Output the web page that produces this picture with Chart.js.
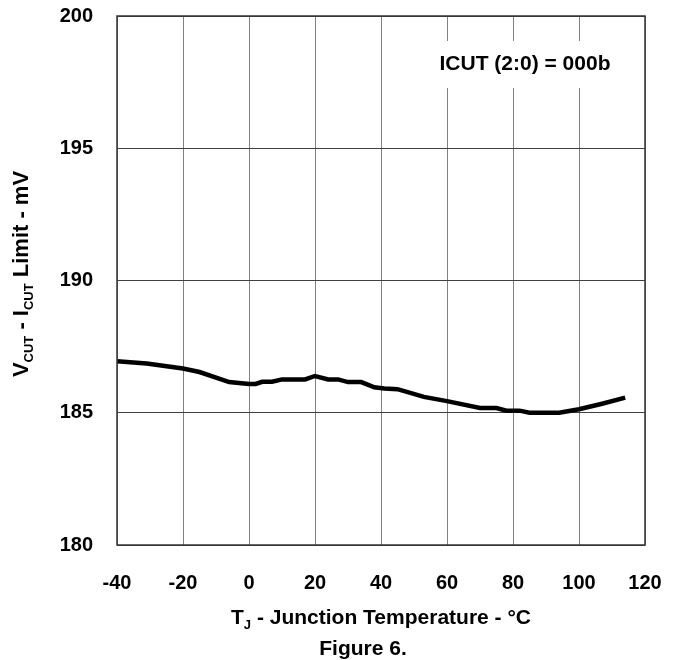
<!DOCTYPE html>
<html>
<head>
<meta charset="utf-8">
<script src="https://cdn.jsdelivr.net/npm/chart.js@4.4.1/dist/chart.umd.min.js"></script>
<style>
  html, body { margin: 0; padding: 0; background: #fff; }
  #wrap { width: 677px; height: 660px; position: relative; }
</style>
</head>
<body>
<div id="wrap"><canvas id="c" width="677" height="660"></canvas></div>
<script>
// ---- data ----
const temperatures = [-40, -31, -20, -15, -6, 0, 2, 4, 7, 10, 17, 20, 24, 27, 30, 34, 38, 41, 45, 53, 60, 70, 75, 78, 82, 85, 94, 100, 107, 114];
const vcutLimit = [186.95, 186.86, 186.67, 186.54, 186.16, 186.09, 186.09, 186.17, 186.17, 186.26, 186.26, 186.39, 186.26, 186.26, 186.16, 186.16, 185.96, 185.92, 185.89, 185.6, 185.44, 185.18, 185.18, 185.08, 185.08, 185.0, 185.0, 185.13, 185.34, 185.57];
const xTicks = [-40, -20, 0, 20, 40, 60, 80, 100, 120];
const yTicks = [180, 185, 190, 195, 200];
const annotationText = "ICUT (2:0) = 000b";
const figureCaption = "Figure 6.";

const FONT = '"Liberation Sans", Arial, Helvetica, sans-serif';

function drawSegments(ctx, segs, cx, baseY) {
  let total = 0;
  segs.forEach(s => { ctx.font = 'bold ' + s.size + 'px ' + FONT; s.w = ctx.measureText(s.t).width; total += s.w; });
  let x = cx - total / 2;
  ctx.textAlign = 'left';
  ctx.textBaseline = 'alphabetic';
  segs.forEach(s => {
    ctx.font = 'bold ' + s.size + 'px ' + FONT;
    ctx.fillText(s.t, x, baseY + s.dy);
    x += s.w;
  });
}

const textPlugin = {
  id: 'texts',
  afterDraw(chart) {
    const ctx = chart.ctx;
    const a = chart.chartArea;
    ctx.save();
    // annotation box
    ctx.fillStyle = '#fff';
    ctx.fillRect(422, 41, 212, 47);
    ctx.fillStyle = '#000';
    ctx.font = 'bold 21px ' + FONT;
    ctx.textAlign = 'center';
    ctx.textBaseline = 'middle';
    ctx.fillText(annotationText, 525, 64);

    // x axis title
    const xc = (a.left + a.right) / 2;
    drawSegments(ctx, [
      {t: 'T', size: 21, dy: 0},
      {t: 'J', size: 13, dy: 5},
      {t: ' - Junction Temperature - \u00B0C', size: 21, dy: 0}
    ], xc, 624);

    // caption
    drawSegments(ctx, [{t: figureCaption, size: 21, dy: 0}], 363, 655);

    // y axis title (rotated)
    ctx.save();
    ctx.translate(28, 274);
    ctx.rotate(-Math.PI / 2);
    drawSegments(ctx, [
      {t: 'V', size: 22, dy: 0},
      {t: 'CUT', size: 13, dy: 5},
      {t: ' - I', size: 22, dy: 0},
      {t: 'CUT', size: 13, dy: 5},
      {t: ' Limit - mV', size: 22, dy: 0}
    ], 0, 0);
    ctx.restore();

    // plot border
    ctx.strokeStyle = '#333';
    ctx.lineWidth = 1.5;
    ctx.strokeRect(a.left, a.top, a.right - a.left, a.bottom - a.top);
    ctx.restore();
  }
};

const points = temperatures.map((t, i) => ({x: t, y: vcutLimit[i]}));

new Chart(document.getElementById('c'), {
  type: 'line',
  data: {
    datasets: [{
      data: points,
      borderColor: '#000',
      borderWidth: 4.5,
      pointRadius: 0,
      tension: 0,
      fill: false
    }]
  },
  options: {
    responsive: false,
    animation: false,
    layout: { padding: { left: 0, right: 32, top: 16, bottom: 0 } },
    plugins: { legend: { display: false }, tooltip: { enabled: false } },
    scales: {
      x: {
        type: 'linear',
        min: -40, max: 120,
        afterBuildTicks(scale) { scale.ticks = xTicks.map(v => ({value: v})); },
        afterFit(scale) {
          scale.height = 115;
          scale.paddingLeft = 0; scale.paddingRight = 0;
          scale.paddingTop = 0; scale.paddingBottom = 0;
        },
        grid: { color: '#808080', lineWidth: 1, drawTicks: false },
        border: { display: false },
        ticks: {
          padding: 26,
          color: '#000',
          font: { family: FONT, size: 20, weight: 'bold' },
          maxRotation: 0
        }
      },
      y: {
        type: 'linear',
        min: 180, max: 200,
        afterBuildTicks(scale) { scale.ticks = yTicks.map(v => ({value: v})); },
        afterFit(scale) {
          scale.width = 117;
          scale.paddingLeft = 0; scale.paddingRight = 0;
          scale.paddingTop = 0; scale.paddingBottom = 0;
        },
        grid: { color: '#404040', lineWidth: 1, drawTicks: false },
        border: { display: false },
        ticks: {
          padding: 24,
          color: '#000',
          font: { family: FONT, size: 20, weight: 'bold' }
        }
      }
    }
  },
  plugins: [textPlugin]
});
</script>
</body>
</html>
